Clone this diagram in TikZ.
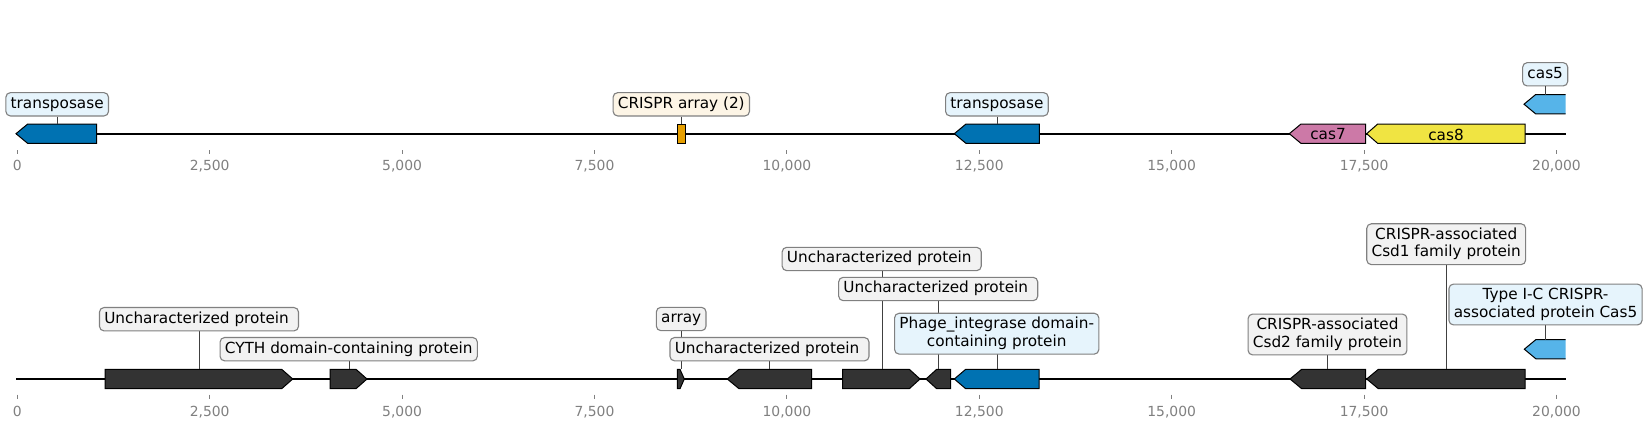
\documentclass[tikz,border=0pt]{standalone}
\usepackage{fontspec}
\setmainfont{DejaVu Sans}
\definecolor{cblue}{HTML}{0072B2}
\definecolor{corange}{HTML}{E69F00}
\definecolor{cpink}{HTML}{CC79A7}
\definecolor{cyellow}{HTML}{F0E442}
\definecolor{csky}{HTML}{56B4E9}
\definecolor{cdark}{HTML}{333333}
\definecolor{lblue}{HTML}{E6F4FC}
\definecolor{lcream}{HTML}{FDF5E6}
\definecolor{lgray}{HTML}{F2F2F2}
\definecolor{tickgray}{HTML}{808080}
\newcommand{\lst}{\rule[-3.7pt]{0pt}{15.3pt}}
\newcommand{\revfeat}[5]{%
  \draw[feat,fill=#5] (#1,#4) -- (#2,{#4-9.7}) -- (#3,{#4-9.7}) -- (#3,{#4+9.7}) -- (#2,{#4+9.7}) -- cycle;}
\newcommand{\fwdfeat}[5]{%
  \draw[feat,fill=#5] (#1,{#4-9.7}) -- (#2,{#4-9.7}) -- (#3,#4) -- (#2,{#4+9.7}) -- (#1,{#4+9.7}) -- cycle;}
\newcommand{\clipfeat}[5]{%
  \fill[#5] (#1,#4) -- (#2,{#4-9.7}) -- (#3,{#4-9.7}) -- (#3,{#4+9.7}) -- (#2,{#4+9.7}) -- cycle;
  \draw[feat] (#3,{#4-9.7}) -- (#2,{#4-9.7}) -- (#1,#4) -- (#2,{#4+9.7}) -- (#3,{#4+9.7});}
\tikzset{
  feat/.style={draw=black, line width=1pt, line join=miter},
  axisline/.style={line width=2pt, black},
  conn/.style={line width=0.9pt, black!75},
  lbl/.style={draw=tickgray, line width=1.1pt, rounded corners=4.5pt, inner xsep=4.8pt, inner ysep=4pt,
    font=\fontsize{15.28}{17.5}\selectfont, align=center, text=black},
  intext/.style={font=\fontsize{15.28}{17.5}\selectfont, inner sep=0pt, text=black},
  tickmark/.style={line width=0.9pt, tickgray},
  ticklbl/.style={font=\fontsize{13.9}{16}\selectfont, text=tickgray, anchor=base, inner sep=0pt},
}
\begin{document}
\begin{tikzpicture}[x=1pt,y=-1pt]
\useasboundingbox[fill=white] (0,0) rectangle (1647,428);

% ---------------- top track ----------------
\coordinate (ta) at (16,133.7);
\coordinate (tb) at (1565.7,133.7);
\draw[axisline] (ta) -- (tb);
\foreach \k/\lab in {0/0,1/{2,500},2/{5,000},3/{7,500},4/{10,000},5/{12,500},6/{15,000},7/{17,500},8/{20,000}}{
  \draw[tickmark] ({17.3+\k*192.4},150) -- ({17.3+\k*192.4},154);
  \node[ticklbl] (tt\k) at ({17.3+\k*192.4},170.6) {\lab};
}
% features
\revfeat{16}{27.7}{96.7}{133.7}{cblue}
\draw[feat,fill=corange] (677.3,124) rectangle (685,143.4);
\revfeat{954.3}{966}{1039.3}{133.7}{cblue}
\revfeat{1289.3}{1301}{1365.7}{133.7}{cpink}
\revfeat{1366.7}{1377.7}{1525}{133.7}{cyellow}
\clipfeat{1524}{1535.7}{1565.7}{104.2}{csky}
\node[intext] (cas7) at (1328,134.5) {cas7};
\node[intext] (cas8) at (1446,134.5) {cas8};
% connector end points
\coordinate (p1) at (57.7,124);
\coordinate (p2) at (681.3,124);
\coordinate (p3) at (997.3,124);
\coordinate (p4) at (1545.7,94.5);
% labels
\node[lbl,fill=lblue] (L1) at (57.2,104.3) {\lst transposase};
\node[lbl,fill=lcream] (L2) at (681.3,104.3) {\lst CRISPR array (2)};
\node[lbl,fill=lblue] (L3) at (996.9,104.3) {\lst transposase};
\node[lbl,fill=lblue] (L4) at (1545.2,74.3) {\lst cas5};
\draw[conn] (p1 |- L1.south) -- (p1);
\draw[conn] (p2 |- L2.south) -- (p2);
\draw[conn] (p3 |- L3.south) -- (p3);
\draw[conn] (p4 |- L4.south) -- (p4);

% ---------------- bottom track ----------------
\coordinate (ba) at (16,379);
\coordinate (bb) at (1565.7,379);
\draw[axisline] (ba) -- (bb);
\foreach \k/\lab in {0/0,1/{2,500},2/{5,000},3/{7,500},4/{10,000},5/{12,500},6/{15,000},7/{17,500},8/{20,000}}{
  \draw[tickmark] ({17.3+\k*192.4},394.5) -- ({17.3+\k*192.4},398.5);
  \node[ticklbl] (bt\k) at ({17.3+\k*192.4},416.1) {\lab};
}
% features
\fwdfeat{105}{281.7}{292.7}{379}{cdark}
\fwdfeat{330}{356}{367}{379}{cdark}
\fwdfeat{677.3}{680}{684.3}{379}{cdark}
\revfeat{727.3}{739}{811.7}{379}{cdark}
\fwdfeat{842.7}{909.3}{920}{379}{cdark}
\revfeat{926}{936.7}{950.7}{379}{cdark}
\revfeat{954.3}{965.7}{1039}{379}{cblue}
\revfeat{1290}{1301.7}{1365.7}{379}{cdark}
\revfeat{1366.7}{1378.3}{1525}{379}{cdark}
\clipfeat{1524.3}{1536}{1565.7}{349.2}{csky}
% connector end points
\coordinate (q1) at (199.3,369.3);
\coordinate (q2) at (349.3,369.3);
\coordinate (q3) at (681.3,369.3);
\coordinate (q4) at (769.3,369.3);
\coordinate (q5) at (882.3,369.3);
\coordinate (q6) at (938.3,369.3);
\coordinate (q7) at (997.3,369.3);
\coordinate (q8) at (1327.7,369.3);
\coordinate (q9) at (1446.7,369.3);
\coordinate (q10) at (1545.7,339.5);
% label positions; connectors drawn first, labels on top
\path (199,319.2) coordinate (c1) (348.7,349.2) coordinate (c2) (681.2,319) coordinate (c3)
      (769.5,349.2) coordinate (c4) (881.7,259) coordinate (c5) (938.2,289) coordinate (c6)
      (996.7,333.7) coordinate (c7) (1327.5,334.5) coordinate (c8) (1446.2,244.2) coordinate (c9)
      (1545.5,304.5) coordinate (c10);
\foreach \i in {1,...,10}{ \draw[conn] (q\i |- c\i) -- (q\i); }
\node[lbl,fill=lgray] (B1) at (c1) {\lst Uncharacterized protein\kern0.318em};
\node[lbl,fill=lgray] (B2) at (c2) {\lst CYTH domain-containing protein};
\node[lbl,fill=lgray] (B3) at (c3) {\lst array};
\node[lbl,fill=lgray] (B4) at (c4) {\lst Uncharacterized protein\kern0.318em};
\node[lbl,fill=lgray] (B5) at (c5) {\lst Uncharacterized protein\kern0.318em};
\node[lbl,fill=lgray] (B6) at (c6) {\lst Uncharacterized protein\kern0.318em};
\node[lbl,fill=lblue] (B7) at (c7) {\lst Phage\_integrase domain-\\\lst containing protein};
\node[lbl,fill=lgray] (B8) at (c8) {\lst CRISPR-associated\\\lst Csd2 family protein};
\node[lbl,fill=lgray] (B9) at (c9) {\lst CRISPR-associated\\\lst Csd1 family protein};
\node[lbl,fill=lblue] (B10) at (c10) {\lst Type I-C CRISPR-\\\lst associated protein Cas5};
\end{tikzpicture}
\end{document}
